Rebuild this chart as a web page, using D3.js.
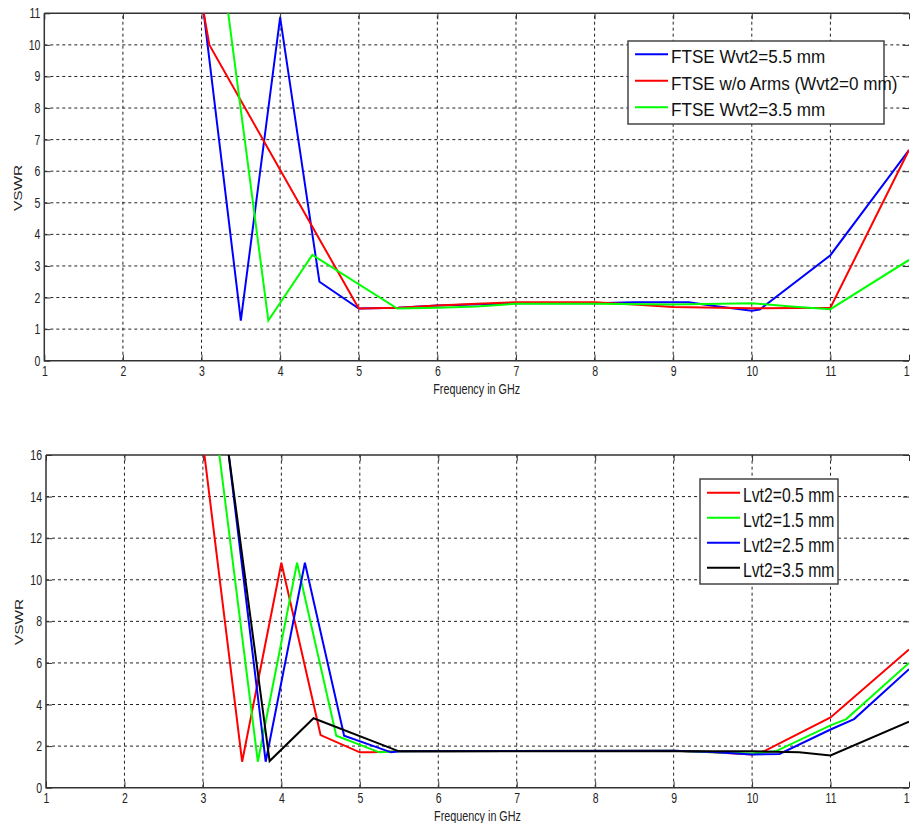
<!DOCTYPE html>
<html><head><meta charset="utf-8">
<script src="https://cdn.jsdelivr.net/npm/d3@7"></script>
<style>
body{margin:0;background:#fff;}
text{font-family:"Liberation Sans",Arial,sans-serif;}
</style></head>
<body><svg id="c" width="910" height="823"></svg>
<script>
// ---------- data ----------
const xTicks = [1,2,3,4,5,6,7,8,9,10,11,12];
const yTicksTop = [0,1,2,3,4,5,6,7,8,9,10,11];
const yTicksBot = [0,2,4,6,8,10,12,14,16];

const topNames = ["FTSE Wvt2=5.5 mm","FTSE w/o Arms (Wvt2=0 mm)","FTSE Wvt2=3.5 mm"];
const topColors = ["#0000ff","#ff0000","#00ff00"];
const blueF = [3, 3.5, 4, 4.5, 5, 5.5, 6, 7, 8, 8.5, 9.2, 9.5, 10, 10.1, 11, 12];
const blueV = [11.6, 1.27, 10.87, 2.5, 1.65, 1.68, 1.75, 1.82, 1.82, 1.85, 1.85, 1.74, 1.58, 1.62, 3.34, 6.67];
const redF  = [3, 3.1, 5, 5.5, 6, 6.5, 7, 8, 8.5, 9, 10, 11, 12];
const redV  = [11.4, 10, 1.65, 1.68, 1.75, 1.8, 1.85, 1.85, 1.78, 1.7, 1.66, 1.68, 6.67];
const greenF = [3.3, 3.85, 4.41, 5.49, 6, 6.5, 7, 8, 9, 10, 10.5, 11, 12];
const greenV = [11.76, 1.27, 3.35, 1.65, 1.68, 1.72, 1.8, 1.8, 1.78, 1.82, 1.72, 1.63, 3.19];

const botNames = ["Lvt2=0.5 mm","Lvt2=1.5 mm","Lvt2=2.5 mm","Lvt2=3.5 mm"];
const botColors = ["#ff0000","#00ff00","#0000ff","#000000"];
const l05F = [3, 3.5, 4, 4.5, 5, 5.15, 5.5, 9, 9.5, 10, 10.15, 11, 12];
const l05V = [16.6, 1.25, 10.82, 2.53, 1.7, 1.7, 1.75, 1.78, 1.7, 1.6, 1.75, 3.38, 6.65];
const l15F = [3.2, 3.7, 4.2, 4.7, 5.25, 5.5, 9, 9.5, 10, 10.3, 11, 11.2, 12];
const l15V = [16.3, 1.25, 10.82, 2.5, 1.7, 1.75, 1.78, 1.7, 1.65, 1.75, 3.0, 3.3, 6.0];
const l25F = [3.3, 3.8, 4.3, 4.8, 5.4, 5.5, 9, 9.5, 10, 10.35, 11, 11.3, 12];
const l25V = [16.9, 1.25, 10.82, 2.5, 1.7, 1.75, 1.78, 1.72, 1.6, 1.62, 2.8, 3.3, 5.7];
const l35F = [3.3, 3.85, 4.41, 5.5, 10, 10.6, 11, 12];
const l35V = [16.85, 1.28, 3.34, 1.75, 1.75, 1.7, 1.55, 3.17];

// ---------- drawing ----------
const svg = d3.select("#c");

// condense a text horizontally around its anchor point
function condense(sel, s){
  sel.each(function(){
    const t = d3.select(this);
    const x = +t.attr("x") || 0, y = +t.attr("y") || 0;
    t.attr("x",0).attr("y",0).attr("transform",`translate(${x},${y}) scale(${s},1)`);
  });
}

function panel(cfg){
  const g = svg.append("g");
  const x = d3.scaleLinear().domain([1,12]).range([cfg.x0, cfg.x1]);
  const y = d3.scaleLinear().domain([0, cfg.ymax]).range([cfg.y0, cfg.y1]);
  const id = "clip"+cfg.key;
  g.append("clipPath").attr("id",id).append("rect")
    .attr("x",cfg.x0).attr("y",cfg.y1).attr("width",cfg.x1-cfg.x0).attr("height",cfg.y0-cfg.y1);
  // grid
  g.append("g").selectAll("line").data(xTicks.slice(1,-1)).join("line")
    .attr("x1",d=>x(d)).attr("x2",d=>x(d)).attr("y1",cfg.y0).attr("y2",cfg.y1)
    .attr("stroke","#222").attr("stroke-width",1).attr("stroke-dasharray","3,3");
  g.append("g").selectAll("line").data(cfg.yTicks.slice(1,-1)).join("line")
    .attr("x1",cfg.x0).attr("x2",cfg.x1).attr("y1",d=>y(d)).attr("y2",d=>y(d))
    .attr("stroke","#222").attr("stroke-width",1).attr("stroke-dasharray","3,3");
  // axes via d3 axis (ticks inward)
  const ax = g.append("g").attr("transform",`translate(0,${cfg.y0})`)
    .call(d3.axisBottom(x).tickValues(xTicks).tickSize(-6).tickPadding(5).tickFormat(d3.format("d")));
  const ay = g.append("g").attr("transform",`translate(${cfg.x0},0)`)
    .call(d3.axisLeft(y).tickValues(cfg.yTicks).tickSize(-6).tickPadding(4).tickFormat(d3.format("d")));
  const ayr = g.append("g").attr("transform",`translate(${cfg.x1},0)`)
    .call(d3.axisRight(y).tickValues(cfg.yTicks).tickSize(-6).tickFormat(""));
  const axt = g.append("g").attr("transform",`translate(0,${cfg.y1})`)
    .call(d3.axisTop(x).tickValues(xTicks).tickSize(-6).tickFormat(""));
  [ax,ay,ayr,axt].forEach(a=>{
    a.select(".domain").remove();
    a.selectAll("line").attr("stroke","#333");
    a.selectAll("text").attr("font-size",14).attr("fill","#222")
      .attr("font-family",'"Liberation Sans",Arial,sans-serif');
  });
  condense(ax.selectAll("text"), 0.75);
  condense(ay.selectAll("text"), 0.75);
  // frame
  g.append("path").attr("d",`M${cfg.x0},${cfg.y1}H${cfg.x1}M${cfg.x0},${cfg.y1}V${cfg.y0}H${cfg.x1}`)
    .attr("fill","none").attr("stroke","#333").attr("stroke-width",1.5);
  // labels
  const xl = g.append("text").attr("x",(cfg.x0+cfg.x1)/2).attr("y",cfg.xlabY).attr("text-anchor","middle")
    .attr("font-size",14).attr("fill","#222").text("Frequency in GHz");
  condense(xl, 0.77);
  g.append("text").attr("transform",`translate(${cfg.ylabX},${cfg.ylabY}) rotate(-90) scale(1.1,0.8)`)
    .attr("text-anchor","middle").attr("font-size",14).attr("fill","#222").text("VSWR");
  // lines
  const line = d3.line().x(d=>x(d[0])).y(d=>y(d[1]));
  const lg = g.append("g").attr("clip-path",`url(#${id})`);
  cfg.series.forEach((s,i)=>{
    const pts = s.f.map((f,j)=>[f,s.v[j]]);
    lg.append("path").datum(pts).attr("d",line).attr("fill","none")
      .attr("stroke",s.c).attr("stroke-width",2).attr("stroke-linejoin","miter");
  });
  // legend
  const L = cfg.legend;
  const lgd = g.append("g");
  lgd.append("rect").attr("x",L.x).attr("y",L.y).attr("width",L.w).attr("height",L.h)
    .attr("fill","#fff").attr("stroke","#444").attr("stroke-width",1.5);
  L.names.forEach((n,i)=>{
    const yy = L.y + L.first + i*L.step;
    lgd.append("line").attr("x1",L.x+7).attr("x2",L.x+40).attr("y1",yy).attr("y2",yy)
      .attr("stroke",L.colors[i]).attr("stroke-width",2);
    const t = lgd.append("text").attr("x",L.x+43).attr("y",yy+9).attr("font-size",L.fs).attr("fill","#111").text(n);
    condense(t, L.sx);
  });
}

panel({key:"t", x0:44.3, x1:909, y0:360.7, y1:13.3, ymax:11, yTicks:yTicksTop,
  xlabY:394, ylabX:22, ylabY:188,
  series:[{f:blueF,v:blueV,c:topColors[0]},{f:redF,v:redV,c:topColors[1]},{f:greenF,v:greenV,c:topColors[2]}],
  legend:{x:628,y:41,w:256,h:83,first:13.3,step:26.5,fs:19,sx:0.9,names:topNames,colors:topColors}});

panel({key:"b", x0:46, x1:909, y0:787.7, y1:455, ymax:16, yTicks:yTicksBot,
  xlabY:821, ylabX:23, ylabY:622,
  series:[{f:l05F,v:l05V,c:botColors[0]},{f:l15F,v:l15V,c:botColors[1]},{f:l25F,v:l25V,c:botColors[2]},{f:l35F,v:l35V,c:botColors[3]}],
  legend:{x:700,y:479,w:138,h:105,first:13.7,step:25,fs:21,sx:0.75,names:botNames,colors:botColors}});
</script></body></html>
